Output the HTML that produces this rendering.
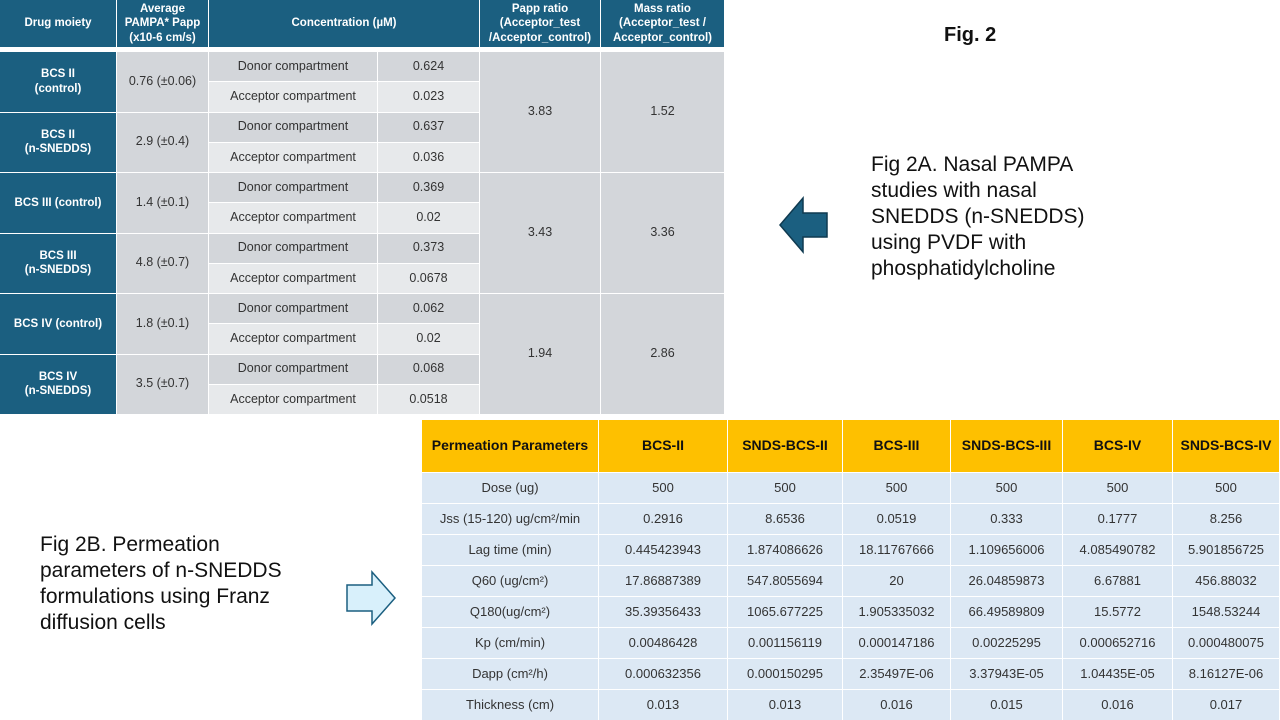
<!DOCTYPE html>
<html><head><meta charset="utf-8">
<style>
body{margin:0;width:1280px;height:720px;background:#fff;position:relative;overflow:hidden;font-family:"Liberation Sans",sans-serif;}
.c{position:absolute;display:flex;align-items:center;justify-content:center;text-align:center;box-sizing:border-box;font-size:12.5px;color:#333;line-height:1.25;}
.h{background:#1b5f80;color:#fff;font-weight:bold;font-size:11.5px;}
.lbl{position:absolute;font-size:21px;color:#111;line-height:26px;}
</style></head><body>
<div class="lbl" style="left:944px;top:22px;font-weight:bold;font-size:20px;">Fig. 2</div>
<div class="lbl" style="left:871px;top:152px;width:240px;">Fig 2A. Nasal PAMPA studies with nasal SNEDDS (n-SNEDDS) using PVDF with phosphatidylcholine</div>
<div class="lbl" style="left:40px;top:532px;width:280px;">Fig 2B. Permeation parameters of n-SNEDDS formulations using Franz diffusion cells</div>
<svg style="position:absolute;left:778px;top:195px" width="52" height="60"><polygon points="2,30 25,3 25,18 49,18 49,42 25,42 25,57" fill="#1b5f80" stroke="#0f3a50" stroke-width="1.5"/></svg>
<svg style="position:absolute;left:345px;top:570px" width="52" height="56"><polygon points="50,28 27,2 27,15 2,15 2,41 27,41 27,54" fill="#d8f0fb" stroke="#1b5f80" stroke-width="1.5"/></svg>
<div id="root"></div>
<script>
const root=document.getElementById('root');
function cell(x,y,w,h,txt,bg,cls,name){
  const d=document.createElement('div');
  d.className='c '+(cls||'');
  d.style.left=x+'px';d.style.top=y+'px';d.style.width=w+'px';d.style.height=h+'px';
  if(bg)d.style.background=bg;
  d.innerHTML=txt;
  
  
  root.appendChild(d);return d;
}
// Table A
const ax=[0,117,209,378,480,601,724];
const headA=['Drug moiety','Average PAMPA* Papp (x10-6 cm/s)','Concentration (µM)','Papp ratio (Acceptor_test /Acceptor_control)','Mass ratio (Acceptor_test / Acceptor_control)'];
cell(0,0,116,47,headA[0],null,'h','header-drug-moiety');
cell(117,0,91,47,headA[1],null,'h','header-avg-papp');
cell(209,0,270,47,headA[2],null,'h','header-concentration');
cell(480,0,120,47,headA[3],null,'h','header-papp-ratio');
cell(601,0,123,47,headA[4],null,'h','header-mass-ratio');
const drugs=['BCS II<br>(control)','BCS II<br>(n-SNEDDS)','BCS III (control)','BCS III<br>(n-SNEDDS)','BCS IV (control)','BCS IV<br>(n-SNEDDS)'];
const papp=['0.76 (±0.06)','2.9 (±0.4)','1.4 (±0.1)','4.8 (±0.7)','1.8 (±0.1)','3.5 (±0.7)'];
const conc=[['0.624','0.023'],['0.637','0.036'],['0.369','0.02'],['0.373','0.0678'],['0.062','0.02'],['0.068','0.0518']];
const pappRatio=['3.83','3.43','1.94'];
const massRatio=['1.52','3.36','2.86'];
const y0=51,rh=30.25;
for(let i=0;i<6;i++){
  const y=y0+i*2*rh;
  cell(0,y+1,116,2*rh-1,drugs[i],null,'h','drug-'+i);
  cell(117,y+1,91,2*rh-1,papp[i],'#d3d6da','','avg-papp-'+i);
  cell(209,y+1,168,rh-1,'Donor compartment','#d3d6da','','donor-label-'+i);
  cell(378,y+1,101,rh-1,conc[i][0],'#d3d6da','','donor-conc-'+i);
  cell(209,y+rh+1,168,rh-1,'Acceptor compartment','#e7e9eb','','acceptor-label-'+i);
  cell(378,y+rh+1,101,rh-1,conc[i][1],'#e7e9eb','','acceptor-conc-'+i);
}
for(let g=0;g<3;g++){
  const y=y0+g*4*rh;
  cell(480,y+1,120,4*rh-1,pappRatio[g],'#d3d6da','','papp-ratio-'+g);
  cell(601,y+1,123,4*rh-1,massRatio[g],'#d3d6da','','mass-ratio-'+g);
}
// Table B
const bx=[422,599,728,843,951,1063,1173,1280];
const headB=['Permeation Parameters','BCS-II','SNDS-BCS-II','BCS-III','SNDS-BCS-III','BCS-IV','SNDS-BCS-IV'];
const params=['Dose (ug)','Jss (15-120) ug/cm²/min','Lag time (min)','Q60 (ug/cm²)','Q180(ug/cm²)','Kp (cm/min)','Dapp (cm²/h)','Thickness (cm)'];
const vals=[
['500','500','500','500','500','500'],
['0.2916','8.6536','0.0519','0.333','0.1777','8.256'],
['0.445423943','1.874086626','18.11767666','1.109656006','4.085490782','5.901856725'],
['17.86887389','547.8055694','20','26.04859873','6.67881','456.88032'],
['35.39356433','1065.677225','1.905335032','66.49589809','15.5772','1548.53244'],
['0.00486428','0.001156119','0.000147186','0.00225295','0.000652716','0.000480075'],
['0.000632356','0.000150295','2.35497E-06','3.37943E-05','1.04435E-05','8.16127E-06'],
['0.013','0.013','0.016','0.015','0.016','0.017']];
for(let j=0;j<7;j++){
  const d=cell(bx[j],420,bx[j+1]-bx[j]-1,52,headB[j],'#fec000','','header-'+headB[j].toLowerCase().replace(/ /g,'-'));
  d.style.fontWeight='bold';d.style.fontSize='14px';d.style.color='#111';
}
for(let r=0;r<8;r++){
  const y=473+r*31;
  for(let j=0;j<7;j++){
    const d=cell(bx[j],y,bx[j+1]-bx[j]-1,30,j==0?params[r]:vals[r][j-1],'#dce8f4','','cell-'+r+'-'+j);
    d.style.fontSize='13px';
  }
}
</script>
</body></html>
